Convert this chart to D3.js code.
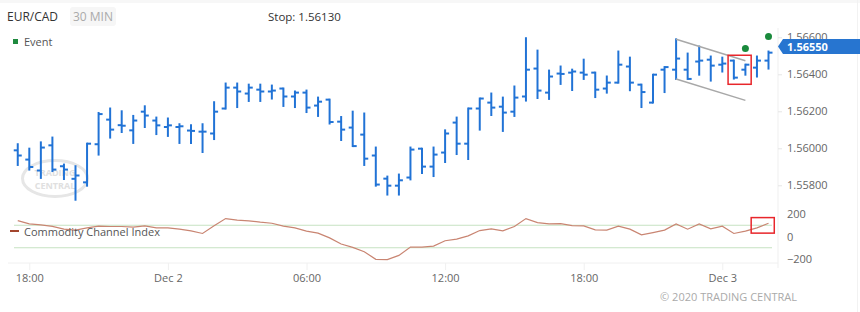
<!DOCTYPE html>
<html>
<head>
<meta charset="utf-8">
<script src="https://cdn.jsdelivr.net/npm/d3@7"></script>
<style>
  body { margin: 0; background: #fff; }
  svg { font-family: "Open Sans", sans-serif; }
</style>
</head>
<body>
<svg id="chart" width="860" height="312"></svg>
<script>
// 30 min bars, EUR/CAD, Dec 1 17:30 -> Dec 3 02:00 (UTC)
var opens  = [1.55989,1.55939,1.55880,1.56016,1.55903,1.55835,1.55816,1.56022,1.56155,1.56125,
              1.56097,1.56198,1.56150,1.56115,1.56115,1.56096,1.56090,1.56080,1.56215,1.56328,
              1.56296,1.56317,1.56307,1.56323,1.56280,1.56301,1.56231,1.56263,1.56144,1.56112,
              1.56074,1.55961,1.55836,1.55798,1.55842,1.55998,1.55901,1.55977,1.56139,1.56025,
              1.56215,1.56247,1.56225,1.56198,1.56280,1.56431,1.56301,1.56404,1.56409,1.56409,
              1.56409,1.56323,1.56355,1.56442,1.56344,1.56247,1.56425,1.56425,1.56425,1.56469,
              1.56479,1.56452,1.56474,1.56425,1.56436,1.56474]
var highs  = [1.56022,1.55998,1.56032,1.56058,1.55912,1.55903,1.56025,1.56191,1.56215,1.56200,
              1.56175,1.56227,1.56166,1.56161,1.56130,1.56124,1.56130,1.56249,1.56350,1.56350,
              1.56344,1.56344,1.56339,1.56323,1.56307,1.56312,1.56274,1.56263,1.56169,1.56198,
              1.56188,1.56004,1.55847,1.55858,1.56004,1.55998,1.56004,1.56097,1.56166,1.56215,
              1.56269,1.56296,1.56274,1.56334,1.56595,1.56528,1.56420,1.56442,1.56425,1.56479,
              1.56409,1.56388,1.56523,1.56490,1.56344,1.56398,1.56439,1.56589,1.56512,1.56550,
              1.56496,1.56490,1.56474,1.56452,1.56496,1.56523]
var lows   = [1.55910,1.55885,1.55840,1.55877,1.55834,1.55722,1.55798,1.55966,1.56058,1.56088,
              1.56029,1.56115,1.56077,1.56067,1.56029,1.56029,1.55980,1.56050,1.56215,1.56223,
              1.56256,1.56256,1.56269,1.56229,1.56223,1.56196,1.56175,1.56134,1.56045,1.56012,
              1.55910,1.55798,1.55750,1.55750,1.55832,1.55867,1.55850,1.55926,1.55969,1.55942,
              1.56101,1.56180,1.56094,1.56175,1.56258,1.56272,1.56267,1.56348,1.56315,1.56375,
              1.56277,1.56301,1.56355,1.56314,1.56223,1.56247,1.56304,1.56375,1.56375,1.56398,
              1.56366,1.56415,1.56377,1.56398,1.56388,1.56431]
var closes = [1.55961,1.55899,1.56004,1.55885,1.55885,1.55853,1.56025,1.56185,1.56101,1.56122,
              1.56150,1.56177,1.56124,1.56124,1.56119,1.56094,1.56090,1.56198,1.56328,1.56307,
              1.56328,1.56307,1.56312,1.56280,1.56301,1.56220,1.56252,1.56142,1.56101,1.56012,
              1.55944,1.55804,1.55798,1.55827,1.55993,1.55901,1.55966,1.56080,1.56025,1.56215,
              1.56269,1.56220,1.56193,1.56274,1.56425,1.56312,1.56388,1.56402,1.56415,1.56398,
              1.56317,1.56355,1.56452,1.56355,1.56304,1.56398,1.56439,1.56485,1.56375,1.56474,
              1.56447,1.56458,1.56382,1.56452,1.56474,1.56517]
var cci    = [141,112,103,90,65,57,77,92,89,89,
              83,95,77,77,65,50,27,95,159,145,
              139,127,118,92,77,48,30,-12,-67,-97,
              -135,-203,-206,-168,-94,-94,-85,-38,-23,6,
              53,68,50,89,159,124,112,115,97,95,
              59,57,92,65,15,35,57,112,65,112,
              68,92,27,48,77,118]

var priceTicks = [1.558, 1.560, 1.562, 1.564, 1.566]
var cciTicks = [200, 0, -200]
var cciLevels = [100, -100]
var lastPrice = 1.56550
var stopPrice = "1.56130"
var eventBars = [63, 65]
var eventPrices = [1.56540, 1.56605]
// channel: [bar, price] ends
var channelUpper = [[57, 1.56589], [63, 1.56473]]
var channelLower = [[57, 1.56375], [63, 1.56259]]
// highlight boxes: [bar from, bar to, value top, value bottom]
var boxPrice = [61.5, 63.5, 1.56503, 1.56346]
var boxCci = [63.5, 65.5, 168, 30]

var start = Date.UTC(2020, 11, 1, 17, 30)
var halfHour = 30 * 60 * 1000
var times = opens.map((d, i) => new Date(start + i * halfHour))
var barTime = i => new Date(start + i * halfHour)

var svg = d3.select("#chart")

var x = d3.scaleUtc()
  .domain([new Date(Date.UTC(2020, 11, 1, 18)), new Date(Date.UTC(2020, 11, 3, 0))])
  .range([29.3, 722.3])
var y = d3.scaleLinear().domain([1.558, 1.566]).range([185.3, 37.3])
var yc = d3.scaleLinear().domain([-200, 200]).range([259, 214])

// frame
svg.append("rect").attr("x", 0).attr("y", 0).attr("width", 860).attr("height", 3).attr("fill", "#f7f7f7")
svg.append("line").attr("x1", 778).attr("x2", 778).attr("y1", 28).attr("y2", 268).attr("stroke", "#efefef")
svg.append("line").attr("x1", 857.5).attr("x2", 857.5).attr("y1", 0).attr("y2", 312).attr("stroke", "#f2f2f2")

// header
svg.append("text").attr("x", 7).attr("y", 21).attr("font-size", 12).attr("fill", "#333").text("EUR/CAD")
svg.append("rect").attr("x", 70).attr("y", 7).attr("width", 46).attr("height", 19).attr("rx", 3).attr("fill", "#f6f6f6")
svg.append("text").attr("x", 93).attr("y", 21).attr("text-anchor", "middle").attr("font-size", 12).attr("fill", "#aaa").text("30 MIN")
svg.append("text").attr("x", 268).attr("y", 21).attr("font-size", 11.5).attr("fill", "#333").text("Stop: " + stopPrice)
svg.append("rect").attr("x", 13).attr("y", 39).attr("width", 5).attr("height", 5).attr("fill", "#1f8a3f")
svg.append("text").attr("x", 24).attr("y", 46).attr("font-size", 11).attr("fill", "#555").text("Event")

// watermark
var wm = svg.append("g").attr("transform", "translate(55,178.5)")
wm.append("ellipse").attr("rx", 32.5).attr("ry", 18).attr("fill", "none").attr("stroke", "#e6e6e6").attr("stroke-width", 3)
wm.append("text").attr("y", -3).attr("text-anchor", "middle").attr("font-size", 9).attr("font-weight", "bold").attr("fill", "#e0e0e0").text("TRADING")
wm.append("text").attr("y", 10).attr("text-anchor", "middle").attr("font-size", 9).attr("font-weight", "bold").attr("fill", "#e0e0e0").text("CENTRAL")

// OHLC bars
var barColor = "#2173d6"
var bars = svg.append("g").attr("stroke", barColor).attr("stroke-width", 2)
bars.selectAll("line.hl").data(opens).enter().append("line")
  .attr("x1", (d, i) => x(times[i])).attr("x2", (d, i) => x(times[i]))
  .attr("y1", (d, i) => y(highs[i]) - 1).attr("y2", (d, i) => y(lows[i]) + 1)
bars.selectAll("line.o").data(opens).enter().append("line")
  .attr("x1", (d, i) => x(times[i]) - 4).attr("x2", (d, i) => x(times[i]))
  .attr("y1", d => y(d)).attr("y2", d => y(d))
bars.selectAll("line.c").data(closes).enter().append("line")
  .attr("x1", (d, i) => x(times[i])).attr("x2", (d, i) => x(times[i]) + 4)
  .attr("y1", d => y(d)).attr("y2", d => y(d))

// channel
var chLine = d3.line().x(d => x(barTime(d[0]))).y(d => y(d[1]))
svg.append("path").attr("d", chLine(channelUpper)).attr("fill", "none").attr("stroke", "#a8a8a8").attr("stroke-width", 1.5)
svg.append("path").attr("d", chLine(channelLower)).attr("fill", "none").attr("stroke", "#a8a8a8").attr("stroke-width", 1.5)

// highlight box
svg.append("rect")
  .attr("x", x(barTime(boxPrice[0]))).attr("y", y(boxPrice[2]))
  .attr("width", x(barTime(boxPrice[1])) - x(barTime(boxPrice[0])))
  .attr("height", y(boxPrice[3]) - y(boxPrice[2]))
  .attr("fill", "none").attr("stroke", "#e8262b").attr("stroke-width", 1.5)

// events
svg.selectAll("circle.ev").data(eventBars).enter().append("circle")
  .attr("cx", d => x(barTime(d))).attr("cy", (d, i) => y(eventPrices[i]))
  .attr("r", 3.5).attr("fill", "#1a8a3c")

// right price axis
var yAxis = d3.axisRight(y).tickValues(priceTicks).tickFormat(d3.format(".5f")).tickSize(4).tickPadding(5)
var ga = svg.append("g").attr("transform", "translate(778,0)").call(yAxis)
ga.select(".domain").remove()
ga.selectAll("line").attr("stroke", "#e6e6e6")
ga.selectAll("text").attr("font-size", 11).attr("fill", "#666").attr("font-family", "Open Sans")

// last price tag
var ly = y(lastPrice)
svg.append("path").attr("d", `M778,${ly} L783,${ly - 7.5} L860,${ly - 7.5} L860,${ly + 7.5} L783,${ly + 7.5} Z`).attr("fill", "#2775d0")
svg.append("text").attr("x", 787).attr("y", ly + 4).attr("font-size", 11).attr("font-weight", "bold").attr("fill", "#fff").text(d3.format(".5f")(lastPrice))

// CCI panel
svg.selectAll("line.lvl").data(cciLevels).enter().append("line")
  .attr("x1", 14).attr("x2", 772).attr("y1", d => yc(d)).attr("y2", d => yc(d))
  .attr("stroke", "#c6e2c2").attr("stroke-width", 1)
var cciLine = d3.line().x((d, i) => x(times[i])).y(d => yc(d))
svg.append("path").datum(cci).attr("d", cciLine).attr("fill", "none").attr("stroke", "#c98572").attr("stroke-width", 1.2)
svg.append("line").attr("x1", 10).attr("x2", 19).attr("y1", 231).attr("y2", 231).attr("stroke", "#a3452e").attr("stroke-width", 2)
svg.append("text").attr("x", 24).attr("y", 235.5).attr("font-size", 11).attr("fill", "#555").text("Commodity Channel Index")

svg.append("rect")
  .attr("x", x(barTime(boxCci[0]))).attr("y", yc(boxCci[2]))
  .attr("width", x(barTime(boxCci[1])) - x(barTime(boxCci[0])))
  .attr("height", yc(boxCci[3]) - yc(boxCci[2]))
  .attr("fill", "none").attr("stroke", "#e8262b").attr("stroke-width", 1.5)

var cAxis = d3.axisRight(yc).tickValues(cciTicks).tickSize(0).tickPadding(9)
var gc = svg.append("g").attr("transform", "translate(778,0)").call(cAxis)
gc.select(".domain").remove()
gc.selectAll("text").attr("font-size", 11).attr("fill", "#666").attr("font-family", "Open Sans")

// time axis
var fmt = d => d.getUTCHours() === 0 ? d3.utcFormat("%b %-d")(d) : d3.utcFormat("%H:%M")(d)
var xAxis = d3.axisBottom(x).ticks(d3.utcHour.every(6)).tickFormat(fmt).tickSize(7).tickPadding(4)
var gx = svg.append("g").attr("transform", "translate(0,263)").call(xAxis)
gx.select(".domain").attr("d", "M8,0H778").attr("stroke", "#f0f0f0")
gx.selectAll("line").attr("stroke", "#f0f0f0")
gx.selectAll("text").attr("font-size", 11).attr("fill", "#666").attr("font-family", "Open Sans")

svg.append("text").attr("x", 797).attr("y", 301).attr("text-anchor", "end").attr("font-size", 11).attr("fill", "#aaa").text("© 2020 TRADING CENTRAL")
</script>
</body>
</html>
